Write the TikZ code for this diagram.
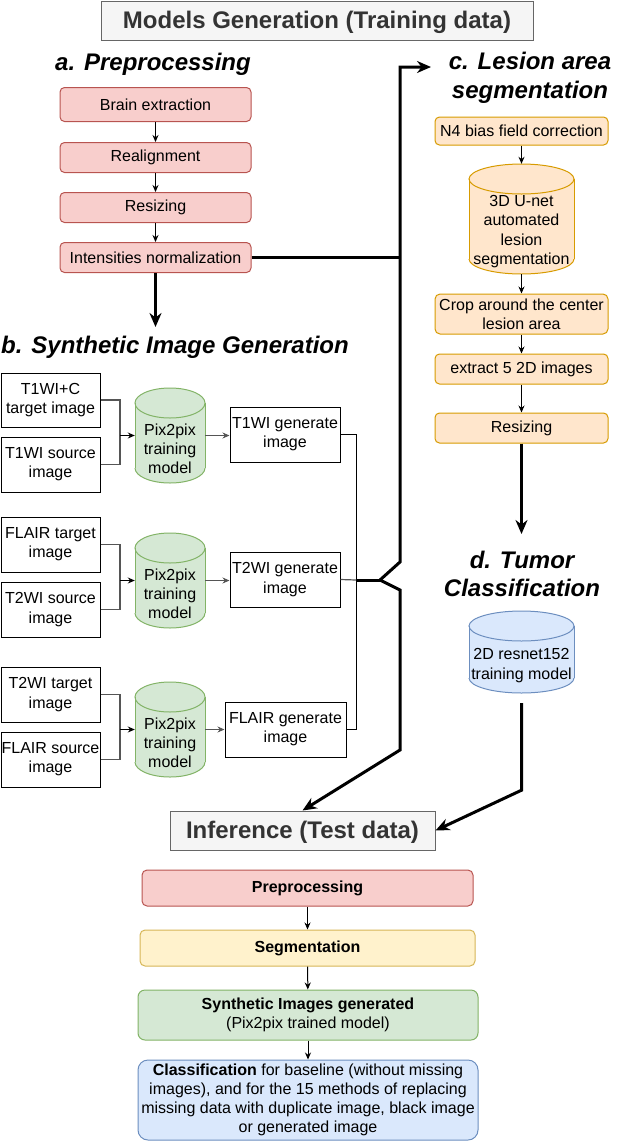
\documentclass[tikz,border=0pt]{standalone}
\usepackage{fontspec}
\setmainfont{Liberation Sans}
\usetikzlibrary{arrows.meta}
\definecolor{redF}{HTML}{F8CECC}\definecolor{redD}{HTML}{B85450}
\definecolor{oraF}{HTML}{FFE6CC}\definecolor{oraD}{HTML}{D79B00}
\definecolor{yelF}{HTML}{FFF2CC}\definecolor{yelD}{HTML}{D6B656}
\definecolor{grnF}{HTML}{D5E8D4}\definecolor{grnD}{HTML}{82B366}
\definecolor{bluF}{HTML}{DAE8FC}\definecolor{bluD}{HTML}{6C8EBF}
\definecolor{gryF}{HTML}{F5F5F5}\definecolor{gryD}{HTML}{666666}\definecolor{gryT}{HTML}{333333}
\definecolor{elbC}{HTML}{555555}
\newcommand\drawcyl[6]{%
 \pgfmathsetmacro\cylcx{(#1+#3)/2}%
 \pgfmathsetmacro\cylrx{(#3-#1)/2}%
 \pgfmathsetmacro\cylya{#2+15}%
 \pgfmathsetmacro\cylyb{#4-15}%
 \fill[#5] (#1,\cylya) rectangle (#3,\cylyb);
 \fill[#5] (\cylcx,\cylyb) ellipse[x radius=\cylrx, y radius=15];
 \fill[#5] (\cylcx,\cylya) ellipse[x radius=\cylrx, y radius=15];
 \draw[#6, line width=1pt] (\cylcx,\cylya) ellipse[x radius=\cylrx, y radius=15];
 \draw[#6, line width=1pt] (#1,\cylya) -- (#1,\cylyb) (#3,\cylya) -- (#3,\cylyb);
 \begin{scope}
 \clip (#1-3,\cylyb) rectangle (#3+3,#4+3);
 \draw[#6, line width=1pt] (\cylcx,\cylyb) ellipse[x radius=\cylrx, y radius=15];
 \end{scope}
}
\tikzset{
 base/.style={draw, line width=1pt, inner sep=0pt, align=center, font=\fontsize{16}{19.2}\selectfont},
 redbox/.style={base, fill=redF, draw=redD, rounded corners=4.5pt},
 orabox/.style={base, fill=oraF, draw=oraD, rounded corners=4.5pt},
 yelbox/.style={base, fill=yelF, draw=yelD, rounded corners=5pt},
 grnbox/.style={base, fill=grnF, draw=grnD, rounded corners=7pt},
 blubox/.style={base, fill=bluF, draw=bluD, rounded corners=10pt},
 plainbox/.style={base, fill=white, draw=black},
 anchorbox/.style={inner sep=0pt, draw=none},
 cyltxt/.style={inner sep=0pt, align=center, font=\fontsize{16}{19.2}\selectfont},
 titlebox/.style={draw=gryD, fill=gryF, line width=1pt, text=gryT, inner sep=0pt, text depth=1pt,
   font=\fontsize{24}{28.8}\selectfont\bfseries},
 heading/.style={font=\fontsize{24}{28.8}\selectfont\bfseries\itshape, align=center, inner sep=0pt},
 arr/.style={-{Stealth[length=7pt,width=6pt]}, line width=1pt},
 bigarr/.style={-{Stealth[length=14pt,width=12pt]}, line width=3pt},
 thickline/.style={line width=3pt},
 elb/.style={line width=1.2pt, draw=elbC},
}
\begin{document}
\begin{tikzpicture}[x=1pt,y=-1pt]
\useasboundingbox (0,0) rectangle (638,1141);
% titles
\node[titlebox, minimum width=432, minimum height=39] (title) at (317,20.5) {Models Generation (Training data)};
\node[heading] (hA) at (153,64) {a. Preprocessing};
\node[heading] (hB) at (175,347) {b. Synthetic Image Generation};
\node[heading] (hC) at (530,78) {c. Lesion area\\segmentation};
\node[heading] (hD) at (522,574) {d. Tumor\\Classification};
% a. preprocessing
\node[redbox, minimum width=191, minimum height=34] (brain) at (155.5,104.5) {Brain extraction};
\node[redbox, minimum width=191, minimum height=30] (realign) at (155.5,157.5) {Realignment};
\node[redbox, minimum width=191, minimum height=30] (resz) at (155.5,207.5) {Resizing};
\node[redbox, minimum width=191, minimum height=30] (inten) at (155.5,257.5) {Intensities normalization};
\draw[arr] (brain) -- (realign);
\draw[arr] (realign) -- (resz);
\draw[arr] (resz) -- (inten);
\coordinate (bTip) at (155.5,327);
\draw[bigarr] (inten.south) -- (bTip);
% b. synthetic image generation
\node[plainbox, minimum width=99, minimum height=54] (t1) at (50.5,400) {T1WI+C\\target image};
\node[plainbox, minimum width=99, minimum height=55] (s1) at (50.5,464.5) {T1WI source\\image};
\node[plainbox, minimum width=99, minimum height=55] (t2) at (50.5,544.5) {FLAIR target\\image};
\node[plainbox, minimum width=99, minimum height=55] (s2) at (50.5,609.5) {T2WI source\\image};
\node[plainbox, minimum width=99, minimum height=55] (t3) at (50.5,694.5) {T2WI target\\image};
\node[plainbox, minimum width=99, minimum height=55] (s3) at (50.5,759.5) {FLAIR source\\image};
\drawcyl{135}{388}{205}{483}{grnF}{grnD}
\drawcyl{135}{533}{205}{628}{grnF}{grnD}
\drawcyl{135}{682}{205}{777}{grnF}{grnD}
\node[anchorbox, minimum width=70, minimum height=95] (c1) at (170,435.5) {};
\node[anchorbox, minimum width=70, minimum height=95] (c2) at (170,580.5) {};
\node[anchorbox, minimum width=70, minimum height=95] (c3) at (170,729.5) {};
\node[cyltxt] (c1t) at (170,449) {Pix2pix\\training\\model};
\node[cyltxt] (c2t) at (170,594) {Pix2pix\\training\\model};
\node[cyltxt] (c3t) at (170,743) {Pix2pix\\training\\model};
\node[plainbox, minimum width=110, minimum height=55] (g1) at (285,434.5) {T1WI generate\\image};
\node[plainbox, minimum width=110, minimum height=55] (g2) at (285,579.5) {T2WI generate\\image};
\node[plainbox, minimum width=121, minimum height=55] (g3) at (285.5,729.5) {FLAIR generate\\image};
\coordinate (j1) at (120,435.5);
\coordinate (j2) at (120,580.5);
\coordinate (j3) at (120,729.5);
\draw[elb] (t1.east) -| (j1);
\draw[elb] (s1.east) -| (j1);
\draw[elb] (t2.east) -| (j2);
\draw[elb] (s2.east) -| (j2);
\draw[elb] (t3.east) -| (j3);
\draw[elb] (s3.east) -| (j3);
\draw[arr, line width=1.5pt] (j1) -- (c1.west);
\draw[arr, line width=1.5pt] (j2) -- (c2.west);
\draw[arr, line width=1.5pt] (j3) -- (c3.west);
\draw[arr, draw=elbC] (c1.east) -- (c1.east -| g1.west);
\draw[arr, draw=elbC] (c2.east) -- (c2.east -| g2.west);
\draw[arr, draw=elbC] (c3.east) -- (c3.east -| g3.west);
\coordinate (mrg) at (356,580);
\draw[line width=1pt] (g1.east) -| (mrg);
\draw[line width=1pt] (g3.east) -| (mrg);
\draw[elb] (g2.east) -- (mrg);
% c. lesion area segmentation
\node[orabox, minimum width=173, minimum height=28] (n4) at (521.5,131) {N4 bias field correction};
\drawcyl{469}{164}{574}{274}{oraF}{oraD}
\node[anchorbox, minimum width=105, minimum height=110] (unet) at (521.5,219) {};
\node[cyltxt] (unett) at (521.5,231.5) {3D U-net\\automated\\lesion\\segmentation};
\node[orabox, minimum width=173, minimum height=40, rounded corners=5pt] (crop) at (521.5,314) {Crop around the center\\lesion area};
\node[orabox, minimum width=173, minimum height=30] (extr) at (521.5,369) {extract 5 2D images};
\node[orabox, minimum width=173, minimum height=30] (resz2) at (521.5,428) {Resizing};
\draw[arr] (n4.south) -- (unet.north);
\draw[arr] (unet.south) -- (crop.north);
\draw[arr] (crop) -- (extr);
\draw[arr] (extr) -- (resz2);
\coordinate (dTip) at (521.5,534);
\draw[bigarr] (resz2.south) -- (dTip);
% d. tumor classification
\drawcyl{469}{611}{574}{693}{bluF}{bluD}
\node[anchorbox, minimum width=105, minimum height=82] (rn) at (521.5,652) {};
\node[cyltxt] (rnt) at (521.5,665.5) {2D resnet152\\training model};
% inference
\node[titlebox, minimum width=265, minimum height=39] (infer) at (302.5,830.5) {Inference (Test data)};
\node[redbox, minimum width=331, minimum height=36, rounded corners=5pt, font=\fontsize{16}{19.2}\selectfont\bfseries] (pre) at (307.5,888) {Preprocessing};
\node[yelbox, minimum width=335, minimum height=36, font=\fontsize{16}{19.2}\selectfont\bfseries] (seg) at (307.5,948) {Segmentation};
\node[grnbox, minimum width=340, minimum height=50] (syn) at (308,1015) {\textbf{Synthetic Images generated}\\(Pix2pix trained model)};
\node[blubox, minimum width=340, minimum height=80] (cls) at (308,1100) {\textbf{Classification} for baseline (without missing\\images), and for the 15 methods of replacing\\missing data with duplicate image, black image\\or generated image};
\draw[arr] (pre) -- (seg);
\draw[arr] (seg) -- (syn);
\draw[arr] (syn) -- (cls);
% thick routing
\coordinate (jn) at (380,580);
\coordinate (ja) at (400,562);
\coordinate (jb) at (400,590);
\coordinate (jc) at (400,750);
\coordinate (cTip) at (431,67);
\draw[thickline] (inten.east) -- (inten.east -| ja);
\draw[thickline] (mrg) -- (jn);
\draw[bigarr, line join=miter] (jn) -- (ja) -- (ja |- cTip) -- (cTip);
\draw[bigarr, line join=miter] (jn) -- (jb) -- (jc) -- (infer.north);
\draw[bigarr, line join=miter] ([yshift=-10pt]rn.south) -- ++(0,87) -- (infer.east);
\end{tikzpicture}
\end{document}
